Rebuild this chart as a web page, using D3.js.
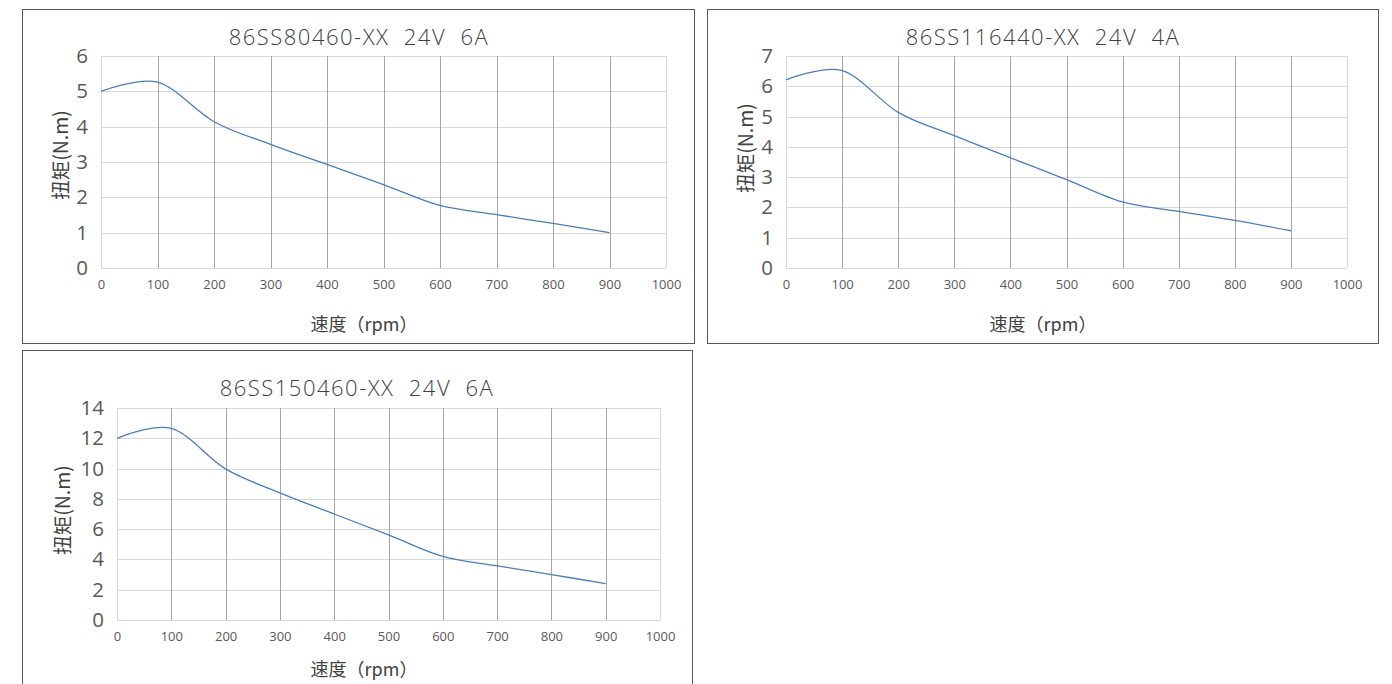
<!DOCTYPE html>
<html><head><meta charset="utf-8">
<script src="https://cdn.jsdelivr.net/npm/d3@7"></script>
<style>
html,body{margin:0;padding:0;background:#fff;}
svg{display:block;}
text{font-family:"Open Sans","Noto Sans CJK SC",sans-serif;fill:#595959;}
</style></head>
<body><svg id="c" width="1392" height="684"></svg>
<script>
// ---- data ----
const speeds = [0,100,200,300,400,500,600,700,800,900];
const torque80460 = [5.0,5.26,4.14,3.5,2.93,2.36,1.77,1.51,1.26,1.0];
const torque116440 = [6.21,6.52,5.14,4.37,3.64,2.92,2.18,1.87,1.57,1.23];
const torque150460 = [12.0,12.65,9.98,8.4,7.0,5.62,4.2,3.58,3.0,2.4];
const xTicks = [0,100,200,300,400,500,600,700,800,900,1000];
const yTicks80460 = [0,1,2,3,4,5,6];
const yTicks116440 = [0,1,2,3,4,5,6,7];
const yTicks150460 = [0,2,4,6,8,10,12,14];
const titles = ["86SS80460-XX  24V  6A","86SS116440-XX  24V  4A","86SS150460-XX  24V  6A"];
const xLabel = "速度（rpm）";
const yLabel = "扭矩(N.m)";

// ---- layout ----
const charts = [
  {title:titles[0], vals:torque80460, yTicks:yTicks80460, ymax:6,
   box:[22,9,672,334], px:[101,666], py:[268,56], tx:359, ty:36, ax:364, ay:323, yx:59, yy:155},
  {title:titles[1], vals:torque116440, yTicks:yTicks116440, ymax:7,
   box:[707,9,671,334], px:[786,1347], py:[268,56], tx:1043, ty:36, ax:1043, ay:323, yx:744, yy:148},
  {title:titles[2], vals:torque150460, yTicks:yTicks150460, ymax:14,
   box:[22,350,670,345], px:[117,660], py:[620,408], tx:357, ty:387, ax:364, ay:668, yx:61, yy:510}
];

const svg = d3.select("#c");

charts.forEach(c => {
  const g = svg.append("g");
  g.append("rect").attr("x",c.box[0]+0.5).attr("y",c.box[1]+0.5)
    .attr("width",c.box[2]).attr("height",c.box[3])
    .attr("fill","#fff").attr("stroke","#595959").attr("stroke-width",1);

  const x = d3.scaleLinear().domain([0,1000]).range(c.px);
  const y = d3.scaleLinear().domain([0,c.ymax]).range(c.py);

  // horizontal grid
  g.append("g").selectAll("line").data(c.yTicks).join("line")
    .attr("x1",x(0)).attr("x2",x(1000))
    .attr("y1",d=>Math.round(y(d))+0.5).attr("y2",d=>Math.round(y(d))+0.5)
    .attr("stroke","#d9d9d9").attr("stroke-width",1);
  // vertical grid
  g.append("g").selectAll("line").data(xTicks).join("line")
    .attr("x1",d=>Math.round(x(d))+0.5).attr("x2",d=>Math.round(x(d))+0.5)
    .attr("y1",y(c.ymax)).attr("y2",y(0))
    .attr("stroke",d=>(d===0||d===1000)?"#d9d9d9":"#a6a6a6").attr("stroke-width",1);

  // axes labels using d3 axes
  const xa = g.append("g").attr("transform",`translate(0,${y(0)})`)
    .call(d3.axisBottom(x).tickValues(xTicks).tickSize(0).tickPadding(12).tickFormat(d3.format("d")));
  xa.select(".domain").remove();
  xa.selectAll("text").style("font-size","13px").style("fill","#595959").style("font-family","'Open Sans',sans-serif");

  const ya = g.append("g").attr("transform",`translate(${x(0)},0)`)
    .call(d3.axisLeft(y).tickValues(c.yTicks).tickSize(0).tickPadding(13).tickFormat(d3.format("d")));
  ya.select(".domain").remove();
  ya.selectAll("text").style("font-size","20.5px").style("fill","#595959").style("font-family","'Open Sans',sans-serif");

  // line
  const line = d3.line().x((d,i)=>x(speeds[i])).y(d=>y(d)).curve(d3.curveCatmullRom.alpha(0));
  g.append("path").datum(c.vals).attr("d",line)
    .attr("fill","none").attr("stroke","#4a7ebb").attr("stroke-width",1.3);

  // title
  g.append("text").attr("x",c.tx).attr("y",c.ty).attr("text-anchor","middle")
    .attr("dominant-baseline","central").style("white-space","pre")
    .style("font-size","22px").style("font-weight","300").style("letter-spacing","1.5px")
    .style("fill","#404040")
    .text(c.title);
  // x title
  g.append("text").attr("x",c.ax).attr("y",c.ay).attr("text-anchor","middle")
    .attr("dominant-baseline","central").style("font-size","18px").style("fill","#404040")
    .style("font-family","'Noto Sans CJK SC',sans-serif").text(xLabel);
  // y title
  g.append("text").attr("transform",`translate(${c.yx},${c.yy}) rotate(-90)`)
    .attr("text-anchor","middle").attr("dominant-baseline","central").style("fill","#404040")
    .style("font-size","19.5px").style("font-family","'Noto Sans CJK SC',sans-serif").text(yLabel);
});
</script></body></html>
